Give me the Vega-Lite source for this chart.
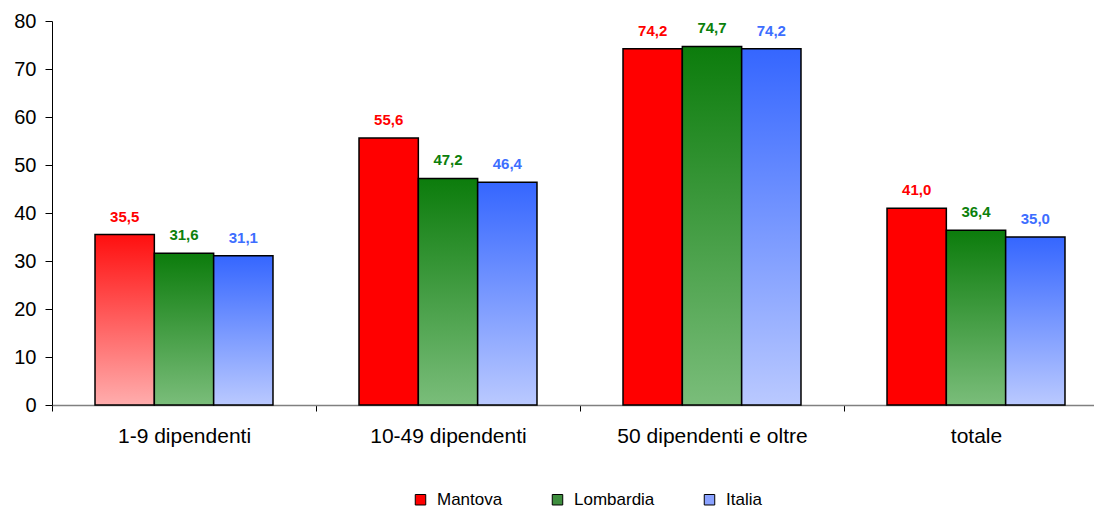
{
  "$schema": "https://vega.github.io/schema/vega-lite/v6.json",
  "width": 1042,
  "height": 384,
  "autosize": {"type": "none"},
  "padding": {"left": 52, "top": 21, "right": 0, "bottom": 103},
  "background": "white",
  "config": {
    "font": "Liberation Sans",
    "view": {"stroke": null},
    "locale": {"number": {"decimal": ",", "thousands": ".", "grouping": [3], "currency": ["", " €"]}}
  },
  "data": {
    "values": [
      {"cat": "1-9 dipendenti", "serie": "Mantova", "value": 35.5},
      {"cat": "1-9 dipendenti", "serie": "Lombardia", "value": 31.6},
      {"cat": "1-9 dipendenti", "serie": "Italia", "value": 31.1},
      {"cat": "10-49 dipendenti", "serie": "Mantova", "value": 55.6},
      {"cat": "10-49 dipendenti", "serie": "Lombardia", "value": 47.2},
      {"cat": "10-49 dipendenti", "serie": "Italia", "value": 46.4},
      {"cat": "50 dipendenti e oltre", "serie": "Mantova", "value": 74.2},
      {"cat": "50 dipendenti e oltre", "serie": "Lombardia", "value": 74.7},
      {"cat": "50 dipendenti e oltre", "serie": "Italia", "value": 74.2},
      {"cat": "totale", "serie": "Mantova", "value": 41.0},
      {"cat": "totale", "serie": "Lombardia", "value": 36.4},
      {"cat": "totale", "serie": "Italia", "value": 35.0}
    ]
  },
  "encoding": {
    "x": {
      "field": "cat", "type": "nominal", "title": null,
      "sort": ["1-9 dipendenti", "10-49 dipendenti", "50 dipendenti e oltre", "totale"],
      "scale": {"range": [0, 1056], "paddingInner": 0, "paddingOuter": 0},
      "axis": {
        "labelAngle": 0, "labelFontSize": 21, "labelColor": "#000000", "labelLimit": 0,
        "labelPadding": 14, "tickSize": 6, "tickColor": "#000000",
        "domainColor": "#808080", "domainWidth": 1.5, "tickBand": "extent",
        "grid": false
      }
    },
    "xOffset": {
      "field": "serie", "type": "nominal",
      "scale": {"domain": ["Mantova", "Lombardia", "Italia"], "paddingInner": 0, "paddingOuter": 0.725}
    },
    "y": {
      "field": "value", "type": "quantitative", "title": null,
      "scale": {"domain": [0, 80], "nice": false},
      "axis": {
        "values": [0, 10, 20, 30, 40, 50, 60, 70, 80],
        "labelFontSize": 20, "labelColor": "#000000", "labelPadding": 9,
        "tickSize": 7, "tickColor": "#000000", "domainColor": "#000000",
        "grid": false
      }
    }
  },
  "layer": [
    {
      "mark": {"type": "bar", "fillOpacity": 0, "strokeOpacity": 0},
      "encoding": {
        "fill": {
          "field": "serie", "type": "nominal",
          "scale": {"domain": ["Mantova", "Lombardia", "Italia"], "range": ["#ff0000", "#3e8e3e", "#8aa2ff"]},
          "legend": {
            "title": null, "orient": "none", "direction": "horizontal",
            "legendX": 360, "legendY": 470,
            "symbolType": "square", "symbolSize": 110,
            "symbolStrokeColor": "#000000", "symbolStrokeWidth": 1, "symbolOpacity": 1,
            "labelFontSize": 17, "labelColor": "#000000", "labelOffset": 8,
            "columnPadding": 46,
            "encode": {
              "symbols": {
                "update": {
                  "fillOpacity": {"value": 1},
                  "strokeOpacity": {"value": 1},
                  "opacity": {"value": 1},
                  "stroke": {"value": "#000000"}
                }
              }
            }
          }
        }
      }
    },
    {
      "transform": [{"filter": "datum.serie === 'Mantova' && datum.cat !== '1-9 dipendenti'"}],
      "mark": {"type": "bar", "fill": "#ff0000", "stroke": "#000000", "strokeWidth": 1.5}
    },
    {
      "transform": [{"filter": "datum.serie === 'Mantova' && datum.cat === '1-9 dipendenti'"}],
      "mark": {
        "type": "bar", "stroke": "#000000", "strokeWidth": 1.5,
        "fill": {"gradient": "linear", "x1": 0, "y1": 0, "x2": 0, "y2": 1,
          "stops": [{"offset": 0, "color": "#ff0f0f"}, {"offset": 1, "color": "#ffadad"}]}
      }
    },
    {
      "transform": [{"filter": "datum.serie === 'Lombardia'"}],
      "mark": {
        "type": "bar", "stroke": "#000000", "strokeWidth": 1.5,
        "fill": {"gradient": "linear", "x1": 0, "y1": 0, "x2": 0, "y2": 1,
          "stops": [{"offset": 0, "color": "#0c7c0c"}, {"offset": 1, "color": "#7abd7a"}]}
      }
    },
    {
      "transform": [{"filter": "datum.serie === 'Italia'"}],
      "mark": {
        "type": "bar", "stroke": "#000000", "strokeWidth": 1.5,
        "fill": {"gradient": "linear", "x1": 0, "y1": 0, "x2": 0, "y2": 1,
          "stops": [{"offset": 0, "color": "#3566ff"}, {"offset": 1, "color": "#bac9ff"}]}
      }
    },
    {
      "mark": {"type": "text", "fontSize": 15, "fontWeight": "bold", "baseline": "alphabetic", "dy": -13},
      "encoding": {
        "text": {"field": "value", "type": "quantitative", "format": ".1f"},
        "color": {
          "field": "serie", "type": "nominal",
          "scale": {"domain": ["Mantova", "Lombardia", "Italia"], "range": ["#ff0000", "#0b800b", "#3d6eff"]},
          "legend": null
        }
      }
    }
  ],
  "resolve": {"scale": {"color": "independent", "fill": "independent"}}
}
